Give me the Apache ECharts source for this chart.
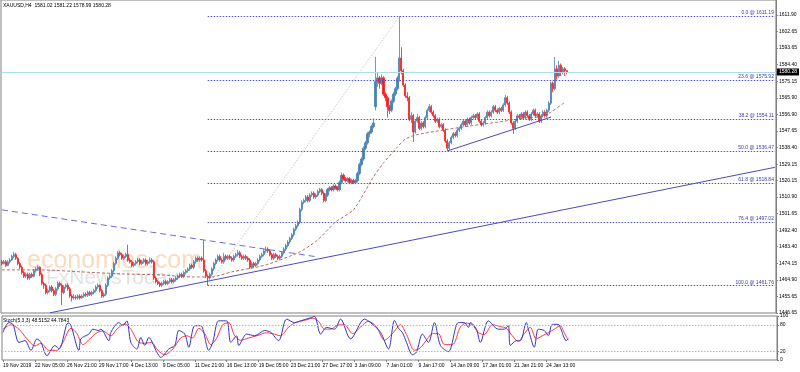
<!DOCTYPE html>
<html><head><meta charset="utf-8">
<script src="https://cdn.jsdelivr.net/npm/echarts@6/dist/echarts.min.js"></script>
<style>html,body{margin:0;padding:0;background:#fff}#c{width:800px;height:372px}</style>
</head><body><div id="c"></div>
<script>
const title = 'XAUUSD,H4  1581.02 1581.22 1578.99 1580.28';
const stochTitle = 'Stoch(5,3,3) 48.5152 44.7843';
const xLabels = ['19 Nov 2019','22 Nov 05:00','26 Nov 21:00','29 Nov 17:00','4 Dec 13:00','9 Dec 05:00','11 Dec 21:00','16 Dec 13:00','19 Dec 05:00','23 Dec 21:00','27 Dec 17:00','3 Jan 09:00','7 Jan 01:00','9 Jan 17:00','14 Jan 09:00','17 Jan 01:00','21 Jan 21:00','24 Jan 13:00'];
const yTicks = [1446.65,1455.65,1464.90,1474.15,1483.40,1492.40,1501.65,1510.90,1520.15,1529.15,1538.40,1547.65,1556.90,1565.90,1575.15,1584.40,1593.65,1602.65,1611.90];
const stochTicks = [0,20,80,100];
const lastPrice = 1580.28;
const fibPct = ['0.0','23.6','38.2','50.0','61.8','76.4','100.0'];
const fibVal = [1611.19,1575.92,1554.11,1536.47,1518.84,1497.02,1461.76];
// [open, close, low, high]
const ohlc = [
[1475,1474,1473,1476],[1474,1475,1473.5,1476],[1475,1473,1472,1476],[1473,1475,1472.5,1476],[1475,1476,1474,1477],
[1476,1478,1475.5,1479],[1478,1479,1477,1480.5],[1479,1477,1476,1480],[1477,1474,1473,1477.5],[1474,1472,1471,1475],
[1472,1469,1468,1473],[1469,1467,1466,1470],[1467,1468,1466,1469],[1468,1466,1465,1469],[1466,1468,1465,1469],
[1468,1467,1466,1469],[1467,1470,1466.5,1471],[1470,1471,1469,1472],[1471,1472,1470,1473],[1472,1468,1467,1472.5],
[1468,1463,1462,1469],[1463,1462,1460,1464],[1462,1458,1457,1463],[1458,1459,1457,1460],[1459,1461,1458,1462],
[1461,1459,1458,1462],[1459,1457,1456,1460],[1457,1460,1456,1461],[1460,1463,1459,1464],[1463,1462,1461,1464],
[1462,1458,1451,1463],[1458,1461,1457,1462],[1461,1462,1460,1463],[1462,1460,1459,1463],[1460,1456,1455,1461],
[1456,1455,1453,1457],[1455,1455.5,1454,1457],[1455.5,1455,1454,1456.5],[1455,1456,1454,1457],[1456,1455,1454,1457],
[1455,1456,1454.5,1457],[1456,1457,1455,1458],[1457,1456.5,1455.5,1458],[1456.5,1458,1455.5,1459],[1458,1457,1456,1459],
[1457,1458,1456,1459],[1458,1459,1457,1460],[1459,1461,1458,1462],[1461,1462,1460,1463],[1462,1459,1458,1462.5],
[1459,1456,1455,1460],[1456,1457,1455,1458],[1457,1462,1456,1463],[1462,1466,1461,1467],[1466,1467,1465,1468],
[1467,1470,1466,1471],[1470,1474,1469,1475],[1474,1477,1473,1478],[1477,1480,1476,1481],[1480,1479,1478,1481],
[1479,1477,1476,1480],[1477,1478,1476,1479],[1478,1479,1477,1480],[1479,1476,1475,1484.5],[1476,1475,1474,1477],
[1475,1473,1472,1476],[1473,1474,1472,1475],[1474,1475,1473,1476],[1475,1476,1474,1477],[1476,1474,1473,1477],
[1474,1475,1473,1476],[1475,1476,1474,1477],[1476,1474,1473,1477],[1474,1475,1473,1476],[1475,1476,1474,1477.5],
[1476,1475,1474,1477],[1475,1466,1465,1476],[1466,1464,1463,1467],[1464,1463,1462,1465],[1463,1462,1461,1464],
[1462,1463,1461,1464],[1463,1464,1462,1465],[1464,1463,1462,1465],[1463,1464,1462,1465],[1464,1465,1463,1466],
[1465,1464,1463,1466],[1464,1465,1463,1466],[1465,1466,1464,1467],[1466,1467,1465,1468],[1467,1468,1466,1469],
[1468,1467,1466,1469],[1467,1469,1466,1470],[1469,1470,1468,1471],[1470,1471,1469,1472],[1471,1473,1470,1474],
[1473,1472,1471,1474],[1472,1475,1471,1476],[1475,1477,1474,1478],[1477,1476,1475,1478],[1476,1477,1475,1478],
[1477,1476,1475,1478],[1476,1470,1469,1487],[1470,1467,1466,1471],[1467,1466,1461.8,1468],[1466,1468,1465,1469],
[1468,1471,1467,1472],[1471,1474,1470,1475],[1474,1476,1473,1477],[1476,1478,1475,1479],[1478,1476,1475,1479],
[1476,1475,1474,1477],[1475,1478,1474,1480],[1478,1477,1476,1479],[1477,1478,1476,1479],[1478,1477,1476,1479],
[1477,1476,1475,1478],[1476,1478,1475,1479],[1478,1479,1477,1480],[1479,1480,1478,1481.6],[1480,1478,1477,1481],
[1478,1477,1476,1479],[1477,1478,1476,1479],[1478,1477,1476,1479],[1477,1476,1475,1478],[1476,1472,1471,1477],
[1472,1474,1471,1475],[1474,1473,1472,1475],[1473,1474,1472,1475],[1474,1476,1473,1477],[1476,1478,1475,1479],
[1478,1479,1477,1480],[1479,1481,1478,1482],[1481,1482,1480,1483.5],[1482,1481,1480,1483],[1481,1479,1478,1482],
[1479,1477,1476,1480],[1477,1479,1476,1480],[1479,1478,1477,1480],[1478,1477,1476,1479],[1477,1478,1476,1479],
[1478,1480,1477,1481],[1480,1482,1479,1483],[1482,1484,1481,1485],[1484,1486,1483,1487],[1486,1488,1485,1489],
[1488,1490,1487,1491],[1490,1493,1489,1494],[1493,1495,1492,1496],[1495,1497,1494,1498],[1497,1504,1496,1505],
[1504,1508,1503,1509],[1508,1509,1507,1510],[1509,1511,1508,1512],[1511,1509,1508,1512],[1509,1512,1508,1513],
[1512,1513,1511,1514],[1513,1511,1510,1514],[1511,1512,1510,1513],[1512,1514,1511,1515],[1514,1515,1513,1516],
[1515,1513,1512,1516],[1513,1509,1508,1514],[1509,1512,1508,1513],[1512,1515,1511,1516],[1515,1516,1514,1517],
[1516,1515,1514,1517],[1515,1517,1514,1518],[1517,1516,1515,1518],[1516,1515,1514,1517],[1515,1519,1514,1520],
[1519,1523,1518,1524.5],[1523,1521,1520,1524],[1521,1520,1519,1522],[1520,1521,1519,1522],[1521,1519,1518,1522],
[1519,1520,1518,1521],[1520,1519,1518,1521],[1519,1520,1518,1521],[1520,1524,1519,1525],[1524,1529,1523,1530],
[1529,1532,1528,1533],[1532,1538,1531,1539],[1538,1541,1537,1542],[1541,1546,1540,1547],[1546,1547,1544,1548],
[1547,1550,1546,1551],[1550,1552,1549,1554.5],[1561,1575,1559,1588.6],[1575,1577,1572,1580],[1577,1574,1571,1578],
[1574,1577,1573,1579],[1577,1568,1567,1578],[1568,1566,1564,1569],[1566,1561,1555,1567],[1561,1559,1557,1562],
[1559,1564,1558,1565],[1564,1568,1563,1569],[1568,1571,1567,1572],[1571,1577,1570,1578],[1577,1588,1575,1611.2],
[1588,1581,1579,1594],[1581,1573,1572,1582],[1573,1567,1566,1574],[1567,1566,1564,1569],[1566,1554,1553,1567],
[1554,1556,1552,1558],[1556,1547,1541.5,1557],[1547,1553,1546,1554],[1553,1555,1552,1557],[1555,1549,1548,1556],
[1549,1552,1548,1553],[1552,1550,1549,1553],[1550,1555,1549,1556],[1555,1559,1554,1560],[1559,1561,1558,1562.5],
[1561,1558,1557,1562],[1558,1556,1555,1559],[1556,1553,1552,1557],[1553,1554,1552,1555],[1554,1550,1549,1555],
[1550,1551,1549,1552],[1551,1548,1547,1552],[1548,1542,1541,1549],[1542,1538,1536.5,1543],[1538,1541,1537,1542],
[1541,1544,1540,1545],[1544,1546,1543,1547],[1546,1545,1544,1547],[1545,1548,1544,1549],[1548,1549,1547,1550],
[1549,1551,1548,1552],[1551,1553,1550,1554],[1553,1551,1550,1554],[1551,1554,1550,1555],[1554,1552,1551,1555],
[1552,1555,1551,1556],[1555,1556,1554,1557],[1556,1555,1554,1557],[1555,1557,1554,1558],[1557,1553,1552,1558],
[1553,1551,1550,1554],[1551,1552,1550,1553],[1552,1555,1551,1556],[1555,1558,1554,1559],[1558,1556,1555,1559],
[1556,1558,1555,1559],[1558,1561,1557,1562],[1561,1559,1558,1562],[1559,1558,1557,1560],[1558,1560,1557,1561],
[1560,1559,1558,1561],[1559,1562,1558,1563],[1562,1566,1561,1567.5],[1566,1563,1562,1567],[1563,1558,1557,1564],
[1558,1552,1551,1559],[1552,1549,1546,1553],[1549,1553,1548,1554],[1553,1556,1552,1557],[1556,1555,1554,1557],
[1555,1557,1554,1558],[1557,1555,1554,1558],[1555,1558,1554,1559],[1558,1556,1555,1559],[1556,1554,1553,1557],
[1554,1557,1553,1558],[1557,1559,1556,1560],[1559,1556,1555,1560],[1556,1557,1555,1558],[1557,1553,1552,1558],
[1553,1556,1552,1557],[1556,1558,1555,1559],[1558,1556,1555,1559],[1556,1559,1555,1560],[1559,1563,1558,1564],
[1563,1574,1562,1575],[1574,1571,1569,1575],[1571,1582,1570,1588.6],[1582,1578,1576,1584],[1578,1584,1577,1586.5],
[1584,1580,1578,1585],[1580,1582,1579,1583],[1582,1581,1578,1583],[1581.02,1580.28,1578.99,1581.22]
];
// moving average, [bar index, value]
const maPoints = [[0,1470.5],[20,1470.5],[40,1469.4],[60,1468.3],[80,1467.7],[95,1466.6],[105,1466.6],[115,1469.4],[132,1473.2],[149,1480.4],[158,1487.1],[167,1497.1],[176,1503.8],[186,1522.1],[191,1529.8],[198,1538.7],[202,1543.1],[207,1545.3],[221,1548.1],[234,1550.3],[249,1552.6],[262,1554.8],[270,1555.5],[275,1558.1],[282,1563.6]];
const downTrend = [[0,1503.8],[158,1477.7]];
const upTrendLong = [[24,1446.7],[387,1527.4]];
const upTrendShort = [[223,1536.5],[275,1555.3]];
const fibAnchor = [[103,1461.76],[199,1611.19]];
const stochK = [[0,63],[3,85],[5,81],[8,40],[11,44],[14,22],[17,48],[19,40],[22,10],[26,33],[28,25],[32,82],[33,84],[38,22],[39,48],[43,59],[45,70],[48,67],[49,70],[53,44],[54,63],[58,85],[60,78],[62,89],[64,40],[67,25],[69,51],[71,33],[73,51],[77,18],[79,6],[83,25],[86,33],[88,67],[91,59],[93,29],[96,78],[99,78],[103,22],[105,40],[108,89],[112,89],[114,40],[117,55],[118,33],[122,59],[126,55],[131,67],[134,63],[138,44],[142,93],[146,85],[149,89],[154,96],[156,99],[159,59],[162,74],[166,70],[169,93],[174,48],[181,93],[184,85],[189,63],[193,25],[196,90],[198,72],[200,62],[202,40],[205,12],[207,18],[210,59],[213,40],[216,85],[219,33],[223,19],[228,85],[231,85],[233,74],[234,85],[237,70],[239,40],[243,89],[248,70],[251,70],[253,78],[254,33],[257,44],[259,44],[262,85],[263,70],[266,29],[268,70],[271,67],[273,55],[275,81],[278,81],[279,74],[282,44],[283,48.5152]];
const stochD = [[0,70],[4,80],[8,70],[12,48],[16,32],[19,38],[23,22],[27,22],[30,40],[34,72],[37,60],[40,35],[44,50],[47,62],[50,66],[54,55],[57,70],[61,82],[64,70],[68,40],[71,38],[74,40],[78,20],[81,12],[85,25],[89,50],[92,55],[95,50],[98,72],[101,60],[104,35],[107,50],[110,80],[113,85],[116,55],[119,45],[123,50],[127,55],[132,62],[135,60],[139,55],[143,75],[147,86],[151,90],[155,95],[158,88],[161,70],[164,70],[168,80],[171,80],[175,60],[179,75],[183,88],[187,75],[191,45],[195,60],[199,80],[202,58],[206,22],[209,28],[212,45],[215,60],[218,60],[221,35],[225,35],[229,75],[232,84],[235,80],[238,62],[241,58],[245,80],[249,76],[252,72],[255,55],[258,42],[261,60],[264,74],[267,48],[270,55],[273,62],[276,70],[279,78],[281,62],[283,44.7843]];

const SLOTS = 388;
const cats = Array.from({length: SLOTS}, (_, i) => String(i));
const FONT = 'Liberation Sans';
const showLab = (i) => i % 16 === 0 && (i / 16) < xLabels.length;

const fibLines = fibVal.map((v, k) => [
  {coord: ['103', v], label: {show: true, position: 'insideEndTop', distance: 1, formatter: fibPct[k] + ' @ ' + v.toFixed(2), color: '#3a3ab0', fontSize: 5, fontFamily: FONT},
   lineStyle: {color: '#5555c8', type: [1.5, 1.5], width: 1}},
  {coord: ['387', v]}
]);

function lineSeries(data, color, type, width, extra) {
  return Object.assign({type: 'line', xAxisIndex: 0, yAxisIndex: 0, data: data, showSymbol: false, symbol: 'none', silent: true,
    lineStyle: {color: color, type: type, width: width}, z: 3}, extra || {});
}

const chart = echarts.init(document.getElementById('c'), null, {renderer: 'canvas'});
chart.setOption({
  animation: false,
  backgroundColor: '#ffffff',
  textStyle: {fontFamily: FONT},
  grid: [
    {left: 1, top: 0, width: 776, height: 313, show: true, borderColor: '#808080', borderWidth: 1},
    {left: 1, top: 316, width: 776, height: 44, show: true, borderColor: '#808080', borderWidth: 1}
  ],
  xAxis: [
    {gridIndex: 0, type: 'category', data: cats, boundaryGap: true, axisLine: {show: false}, axisTick: {show: false}, axisLabel: {show: false}, splitLine: {show: false}},
    {gridIndex: 1, type: 'category', data: cats, boundaryGap: true, axisLine: {show: false},
     axisTick: {show: true, interval: showLab, length: 2, alignWithLabel: true, lineStyle: {color: '#808080'}},
     axisLabel: {show: true, interval: showLab, formatter: (v, i) => xLabels[Number(v) / 16] || '', align: 'left', fontSize: 5, color: '#000', margin: 3, fontFamily: FONT},
     splitLine: {show: false}}
  ],
  yAxis: [
    {gridIndex: 0, type: 'value', position: 'right', min: 1446.6, max: 1620.2, scale: true,
     splitLine: {show: false},
     axisLine: {show: true, lineStyle: {color: '#808080'}},
     axisTick: {show: true, length: 2, customValues: yTicks, lineStyle: {color: '#808080'}},
     axisLabel: {customValues: yTicks, formatter: (v) => v.toFixed(2), fontSize: 5, color: '#000', margin: 3, fontFamily: FONT}},
    {gridIndex: 1, type: 'value', position: 'right', min: 0, max: 100,
     splitLine: {show: false},
     axisLine: {show: true, lineStyle: {color: '#808080'}},
     axisTick: {show: true, length: 2, customValues: stochTicks, lineStyle: {color: '#808080'}},
     axisLabel: {customValues: stochTicks, fontSize: 5, color: '#000', margin: 3, fontFamily: FONT}}
  ],
  graphic: [
    {type: 'text', left: 27, top: 249, z: 0, silent: true, style: {text: 'economies.com', fontSize: 25, fontWeight: 'normal', fontFamily: FONT, fill: 'rgba(248,160,100,0.40)'}},
    {type: 'text', left: 46, top: 268, z: 0, silent: true, style: {text: 'FxNewsToday', fontSize: 21, fontFamily: FONT, fill: 'rgba(160,160,160,0.30)'}},
    {type: 'text', left: 3, top: 3, z: 10, silent: true, style: {text: title, fontSize: 5, fontFamily: FONT, fill: '#000'}},
    {type: 'text', left: 3, top: 318, z: 10, silent: true, style: {text: stochTitle, fontSize: 5, fontFamily: FONT, fill: '#000'}}
  ],
  series: [
    lineSeries(fibAnchor, '#c8c8c8', [1.5, 1.5], 1, {z: 1}),
    lineSeries(downTrend, '#6b6be6', [6, 4], 1),
    lineSeries(upTrendLong, '#4c4cb4', 'solid', 1),
    lineSeries(upTrendShort, '#4c4cb4', 'solid', 1),
    lineSeries(maPoints, 'rgba(170,80,80,0.85)', [3, 2], 1, {smooth: 0.2}),
    {
      type: 'candlestick', xAxisIndex: 0, yAxisIndex: 0, data: ohlc, barWidth: 1.6, z: 2,
      itemStyle: {color: '#4682b4', color0: '#ff1a1a', borderColor: '#4682b4', borderColor0: '#ff1a1a', borderWidth: 0.8},
      markLine: {
        symbol: 'none', silent: true, animation: false,
        data: fibLines.concat([
          {yAxis: lastPrice, lineStyle: {color: '#abdde6', type: 'solid', width: 1},
           label: {show: true, position: 'end', distance: 1, formatter: lastPrice.toFixed(2), backgroundColor: '#000', color: '#fff', fontSize: 5, padding: [1, 2], fontFamily: FONT}}
        ])
      }
    },
    {type: 'line', xAxisIndex: 1, yAxisIndex: 1, data: stochK, showSymbol: false, symbol: 'none', smooth: 0.3, silent: true,
     lineStyle: {color: '#3434c8', width: 1}, z: 3,
     markLine: {symbol: 'none', silent: true, animation: false, label: {show: false},
       lineStyle: {color: '#b8b8b8', type: [1.5, 1.5], width: 1}, data: [{yAxis: 80}, {yAxis: 20}]}},
    {type: 'line', xAxisIndex: 1, yAxisIndex: 1, data: stochD, showSymbol: false, symbol: 'none', smooth: 0.3, silent: true,
     lineStyle: {color: '#ff3838', width: 1}, z: 2}
  ]
});
</script></body></html>
